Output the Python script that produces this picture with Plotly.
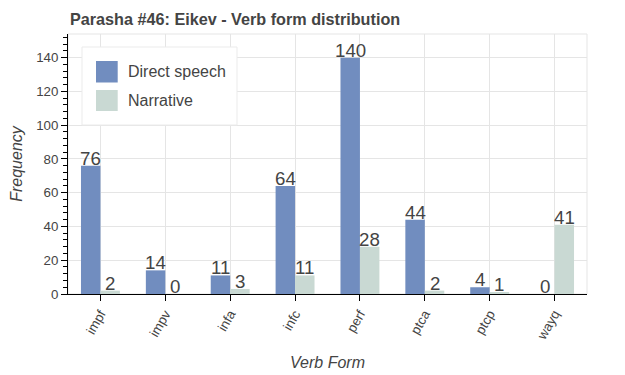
import plotly.graph_objects as go

categories = ["impf", "impv", "infa", "infc", "perf", "ptca", "ptcp", "wayq"]
direct_speech = [76, 14, 11, 64, 140, 44, 4, 0]
narrative = [2, 0, 3, 11, 28, 2, 1, 41]
series_names = ["Direct speech", "Narrative"]
colors = ["#718dbf", "#c9d9d3"]
title_text = "Parasha #46: Eikev - Verb form distribution"

OFF = 8  # default page body margin
W, H = 625 - OFF, 375 - OFF
L, R, T, B = 68 - OFF, 38, 34 - OFF, 81
pw, ph = W - L - R, H - T - B
FONT = "Liberation Sans, Arial, Helvetica, sans-serif"
TXT = "#444444"

fig = go.Figure()
for name, vals, col in zip(series_names, [direct_speech, narrative], colors):
    fig.add_trace(go.Bar(x=categories, y=vals, name=name, marker=dict(color=col, line=dict(width=0)),
                         showlegend=False))

# value labels
annos = []
for k, vals in enumerate([direct_speech, narrative]):
    off = (-0.15 if k == 0 else 0.15) * pw / len(categories)
    for c, v in zip(categories, vals):
        annos.append(dict(x=c, y=v, xref="x", yref="y", text=str(v), showarrow=False,
                          xshift=off, yanchor="bottom", yshift=-5,
                          font=dict(family=FONT, size=18.7, color=TXT)))

# pixel (page) -> paper
def px_x(p):
    return (p - OFF - L) / pw

def px_y(p):
    return (H - B - (p - OFF)) / ph

shapes = [
    dict(type="rect", xref="paper", yref="paper", x0=0, x1=1, y0=0, y1=1,
         line=dict(color="#e5e5e5", width=1), layer="below"),
    # legend box
    dict(type="rect", xref="paper", yref="paper", x0=px_x(82), x1=px_x(237), y0=px_y(47), y1=px_y(125),
         line=dict(color="#ebebeb", width=1), fillcolor="white", layer="above"),
]
sw_y = [(61, 82.5), (90, 111)]
for (y0, y1), col, name in zip(sw_y, colors, series_names):
    shapes.append(dict(type="rect", xref="paper", yref="paper", x0=px_x(96), x1=px_x(117.7),
                       y0=px_y(y1), y1=px_y(y0), line=dict(width=0), fillcolor=col, layer="above"))
    annos.append(dict(xref="paper", yref="paper", x=px_x(126), y=px_y((y0 + y1) / 2), text=name,
                      showarrow=False, xanchor="left", yanchor="middle",
                      font=dict(family=FONT, size=16, color=TXT)))

fig.update_layout(
    width=W, height=H,
    margin=dict(l=L, r=R, t=T, b=B),
    paper_bgcolor="white", plot_bgcolor="white",
    barmode="group", bargap=0.4, bargroupgap=0,
    title=dict(text="<b>" + title_text + "</b>", x=(70 - OFF) / W, xanchor="left",
               y=1 - (19 - OFF) / H, yanchor="middle",
               font=dict(family=FONT, size=16.2, color=TXT)),
    font=dict(family=FONT, color=TXT),
    annotations=annos, shapes=shapes,
    xaxis=dict(automargin=False, showgrid=True, gridcolor="#e5e5e5", showline=True, linecolor="black", linewidth=1,
               ticks="outside", ticklen=6, tickcolor="black", tickangle=-60,
               tickfont=dict(family=FONT, size=13.3, color=TXT),
               title=dict(text="<i>Verb Form</i>", font=dict(family=FONT, size=16, color=TXT), standoff=14)),
    yaxis=dict(automargin=False, range=[0, 154], dtick=20, showgrid=True, gridcolor="#e5e5e5", zeroline=False,
               showline=True, linecolor="black", linewidth=1,
               ticks="outside", ticklen=6, tickcolor="black",
               minor=dict(dtick=4, ticks="outside", ticklen=4, tickcolor="black", showgrid=False),
               tickfont=dict(family=FONT, size=13.3, color=TXT),
               title=dict(text="<i>Frequency</i>", font=dict(family=FONT, size=16, color=TXT), standoff=15)),
)

fig.write_html("out.html")
